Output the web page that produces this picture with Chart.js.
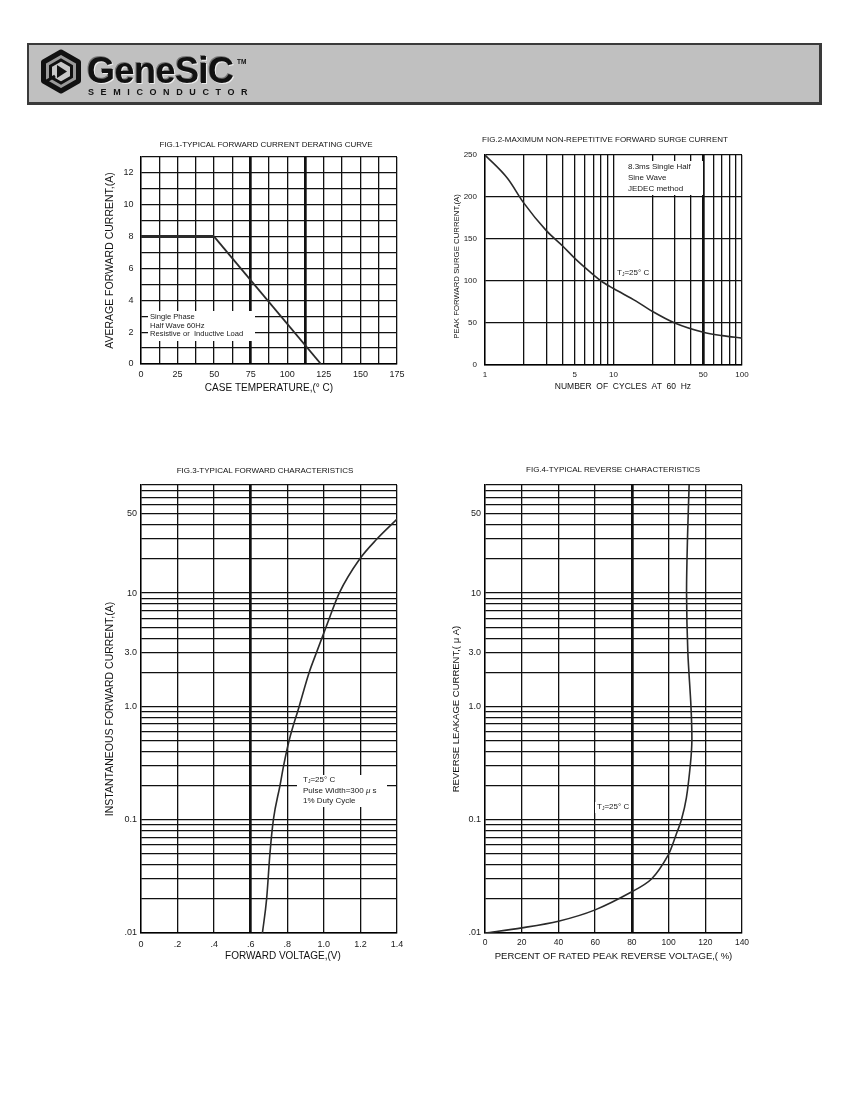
<!DOCTYPE html>
<html><head><meta charset="utf-8">
<script src="https://cdn.jsdelivr.net/npm/chart.js@4.4.1/dist/chart.umd.min.js"></script>
<style>
html,body{margin:0;padding:0;background:#fff;}
body{width:850px;height:1100px;position:relative;overflow:hidden;font-family:"Liberation Sans",Arial,sans-serif;color:#111;}
canvas{position:absolute;}
.gray{filter:grayscale(1);}
.hdr{position:absolute;left:27px;top:43px;width:795px;height:62px;box-sizing:border-box;background:#c0c0c0;border:2px solid #3a3a3a;border-right-width:3px;border-bottom-width:3px;}
.figt{position:absolute;font-size:8px;line-height:10px;white-space:nowrap;transform:translate(-50%,-50%);color:#111;filter:grayscale(1);}
.note{position:absolute;background:#fff;font-size:7.6px;white-space:nowrap;color:#1a1a1a;filter:grayscale(1);}
.note sub{font-size:5px;vertical-align:-1px;}
</style></head>
<body>
<div class="hdr"></div>
<svg style="position:absolute;left:39px;top:49px" width="44" height="45" viewBox="0 0 44 45">
  <polygon points="22,3 39.5,13 39.5,32 22,42 4.5,32 4.5,13" fill="#9a9a9a" stroke="#111" stroke-width="5" stroke-linejoin="round"/>
  <polygon points="22,11 32.5,17 32.5,28 22,34 11.5,28 11.5,17" fill="#c8c8c8" stroke="#111" stroke-width="3"/>
  <polygon points="18,16 28,22.5 18,29" fill="#111"/>
  <path d="M6,33 L16,27" stroke="#111" stroke-width="3"/>
</svg>
<div class="gray" style="position:absolute;left:87px;top:53px;font-size:36px;line-height:36px;font-weight:bold;letter-spacing:-0.5px;color:#111;text-shadow:1px 1px 0 #eee,-1px -1px 0 #777;">GeneSiC</div>
<div class="gray" style="position:absolute;left:237px;top:58px;font-size:6.5px;font-weight:bold;color:#111;">TM</div>
<div class="gray" style="position:absolute;left:88px;top:87px;font-size:9px;line-height:10px;font-weight:bold;letter-spacing:6.6px;color:#111;">SEMICONDUCTOR</div>

<canvas id="c1" width="325" height="260" style="left:95px;top:140px"></canvas>
<canvas id="c2" width="320" height="260" style="left:440px;top:140px"></canvas>
<canvas id="c3" width="325" height="500" style="left:95px;top:470px"></canvas>
<canvas id="c4" width="320" height="500" style="left:440px;top:470px"></canvas>

<div class="figt" style="left:266px;top:145px">FIG.1-TYPICAL FORWARD CURRENT DERATING CURVE</div>
<div class="figt" style="left:605px;top:140px">FIG.2-MAXIMUM NON-REPETITIVE FORWARD SURGE CURRENT</div>
<div class="figt" style="left:265px;top:471px">FIG.3-TYPICAL FORWARD CHARACTERISTICS</div>
<div class="figt" style="left:613px;top:470px">FIG.4-TYPICAL REVERSE CHARACTERISTICS</div>

<div class="note" style="left:148px;top:311px;width:107px;height:30px;line-height:8.7px;padding:2px 0 0 2px;box-sizing:border-box;">Single Phase<br>Half Wave 60Hz<br>Resistive or&nbsp; Inductive Load</div>
<div class="note" style="left:625px;top:161px;width:78px;height:34px;line-height:11px;padding:0 0 0 3px;box-sizing:border-box;font-size:8px;">8.3ms Single Half<br>Sine Wave<br>JEDEC method</div>
<div class="note" style="left:615px;top:268px;padding:0 2px;line-height:10px;font-size:8px;">T<sub>J</sub>=25° C</div>
<div class="note" style="left:297px;top:775px;width:90px;height:32px;line-height:10px;padding:0 0 0 6px;box-sizing:border-box;font-size:8px;">T<sub>J</sub>=25° C<br>Pulse Width=300 <i>μ</i> s<br>1% Duty Cycle</div>
<div class="note" style="left:595px;top:802px;padding:0 2px;line-height:10px;font-size:8px;">T<sub>J</sub>=25° C</div>

<script>
Chart.defaults.font.family = '"Liberation Sans", Arial, sans-serif';
Chart.defaults.color = '#1a1a1a';

// ---------- FIG.1 data ----------
const fig1Temp = [0, 50, 123];
const fig1Current = [8, 8, 0];
const fig1XGrid = [0, 12.5, 25, 37.5, 50, 62.5, 75, 87.5, 100, 112.5, 125, 137.5, 150, 162.5, 175];
const fig1XLabels = [[0,'0'],[25,'25'],[50,'50'],[75,'75'],[100,'100'],[125,'125'],[150,'150'],[175,'175']];
const fig1XThick = [75, 112.5];
const fig1YGrid = [0,1,2,3,4,5,6,7,8,9,10,11,12,13];
const fig1YLabels = [[0,'0'],[2,'2'],[4,'4'],[6,'6'],[8,'8'],[10,'10'],[12,'12']];

// ---------- FIG.2 data ----------
const fig2Cycles = [1, 1.5, 2, 3, 4, 5, 6, 8, 10, 15, 20, 30, 50, 70, 100];
const fig2Surge  = [250, 222, 193, 160, 142, 127, 116, 100, 91, 76, 64, 50, 39, 35, 32];
const fig2XGrid = [1,2,3,4,5,6,7,8,9,10,20,30,40,50,60,70,80,90,100];
const fig2XLabels = [[1,'1'],[5,'5'],[10,'10'],[50,'50'],[100,'100']];
const fig2XThick = [50];
const fig2YGrid = [0,50,100,150,200,250];
const fig2YLabels = [[0,'0'],[50,'50'],[100,'100'],[150,'150'],[200,'200'],[250,'250']];

// ---------- FIG.3 data ----------
const fig3Volt = [0.664, 0.687, 0.705, 0.724, 0.76, 0.78, 0.81, 0.865, 0.92, 0.96, 1.03, 1.084, 1.196, 1.29, 1.40];
const fig3Amp  = [0.01, 0.02, 0.05, 0.1, 0.2, 0.3, 0.5, 1.0, 2.0, 3.0, 6, 10, 20, 30, 45];
const fig3XGrid = [0, 0.2, 0.4, 0.6, 0.8, 1.0, 1.2, 1.4];
const fig3XLabels = [[0,'0'],[0.2,'.2'],[0.4,'.4'],[0.6,'.6'],[0.8,'.8'],[1.0,'1.0'],[1.2,'1.2'],[1.4,'1.4']];
const fig3XThick = [0.6];

// ---------- FIG.4 data ----------
const fig4Pct = [0, 20, 40, 60, 80, 90.7, 99.7, 104, 107, 109.7, 111.9, 112.7, 112.2, 110.5, 109.8, 110.3, 111.2];
const fig4uA  = [0.01, 0.0111, 0.0127, 0.016, 0.0231, 0.030, 0.0485, 0.073, 0.1, 0.156, 0.31, 0.5, 1.0, 3.0, 10, 30, 90];
const fig4XGrid = [0, 20, 40, 60, 80, 100, 120, 140];
const fig4XLabels = [[0,'0'],[20,'20'],[40,'40'],[60,'60'],[80,'80'],[100,'100'],[120,'120'],[140,'140']];
const fig4XThick = [80];

// shared log grid for fig 3 & 4 (1..9 per decade, .01 to 90)
const logDecades = [0.01, 0.1, 1, 10];
const logMantissa = [1,2,3,4,5,6,7,8,9];
const logYGrid = [];
logDecades.forEach(d => logMantissa.forEach(m => logYGrid.push(+(d*m).toPrecision(3))));
const logYLabels = [[0.01,'.01'],[0.1,'0.1'],[1,'1.0'],[3,'3.0'],[10,'10'],[50,'50']];

const near = (a,b) => Math.abs(a-b) <= 1e-9*Math.max(1,Math.abs(b));
const labeler = map => v => { for (const [k,t] of map) if (near(v,k)) return t; return ''; };
const gridWidth = thick => c => (c.tick && thick.some(t => near(c.tick.value,t))) ? 2.7 : 1.3;
const pts = (xs, ys) => xs.map((x,i) => ({x, y: ys[i]}));

function axis(o) {
  return {
    type: o.type, min: o.min, max: o.max,
    afterBuildTicks: s => { s.ticks = o.grid.map(v => ({value: v})); },
    afterFit: s => { if (o.pos === 'x') s.height = o.size; else s.width = o.size; },
    grid: { color: '#111', lineWidth: gridWidth(o.thick || []), drawTicks: false },
    border: { display: true, color: '#000', width: 1.4 },
    ticks: { autoSkip: false, maxRotation: 0, padding: o.tickPad, font: { size: o.tickSize }, color: '#1a1a1a', callback: labeler(o.labels) },
    title: { display: true, text: o.title, color: '#111', font: { size: o.titleSize }, padding: o.pos === 'x' ? {top: 0, bottom: o.titlePad} : {top: o.titlePad, bottom: 0} }
  };
}

function build(id, data, o) {
  return new Chart(document.getElementById(id), {
    type: 'line',
    data: { datasets: [{ data, borderColor: '#2a2a2a', borderWidth: o.lw, pointRadius: 0, tension: o.tension, cubicInterpolationMode: o.mono ? 'monotone' : 'default', fill: false, segment: o.segment || {} }] },
    options: {
      responsive: false, animation: false,
      layout: { padding: o.pad },
      plugins: { legend: { display: false }, tooltip: { enabled: false }, title: { display: false } },
      scales: { x: axis(o.x), y: axis(o.y) }
    }
  });
}

build('c1', pts(fig1Temp, fig1Current), {
  lw: 1.8, tension: 0,
  segment: { borderWidth: c => c.p0DataIndex === 0 ? 3 : 1.8 },
  pad: { top: 17, right: 23, bottom: 0, left: 0 },
  x: { pos: 'x', type: 'linear', min: 0, max: 175, grid: fig1XGrid, labels: fig1XLabels, thick: fig1XThick, size: 36, tickPad: 5.5, tickSize: 9, title: 'CASE TEMPERATURE,(° C)', titleSize: 10, titlePad: 6 },
  y: { pos: 'y', type: 'linear', min: 0, max: 13, grid: fig1YGrid, labels: fig1YLabels, size: 46, tickPad: 7.5, tickSize: 9, title: 'AVERAGE FORWARD CURRENT,(A)', titleSize: 10.5, titlePad: 8.7 }
});

build('c2', pts(fig2Cycles, fig2Surge), {
  lw: 1.6, tension: 0.4, mono: true,
  pad: { top: 15, right: 18, bottom: 0, left: 0 },
  x: { pos: 'x', type: 'logarithmic', min: 1, max: 100, grid: fig2XGrid, labels: fig2XLabels, thick: fig2XThick, size: 35, tickPad: 5, tickSize: 8, title: '        NUMBER  OF  CYCLES  AT  60  Hz', titleSize: 8.5, titlePad: 8 },
  y: { pos: 'y', type: 'linear', min: 0, max: 250, grid: fig2YGrid, labels: fig2YLabels, size: 45, tickPad: 8, tickSize: 8, title: 'PEAK FORWARD SURGE CURRENT,(A)      ', titleSize: 7.8, titlePad: 12 }
});

build('c3', pts(fig3Volt, fig3Amp), {
  lw: 1.6, tension: 0.4, mono: true,
  pad: { top: 15, right: 23, bottom: 0, left: 0 },
  x: { pos: 'x', type: 'linear', min: 0, max: 1.4, grid: fig3XGrid, labels: fig3XLabels, thick: fig3XThick, size: 37, tickPad: 6, tickSize: 9, title: '          FORWARD VOLTAGE,(V)', titleSize: 10, titlePad: 7.3 },
  y: { pos: 'y', type: 'logarithmic', min: 0.01, max: 90, grid: logYGrid, labels: logYLabels, size: 46, tickPad: 4, tickSize: 9, title: 'INSTANTANEOUS FORWARD CURRENT,(A)', titleSize: 10.5, titlePad: 8.7 }
});

build('c4', pts(fig4Pct, fig4uA), {
  lw: 1.6, tension: 0.3,
  pad: { top: 15, right: 18, bottom: 0, left: 0 },
  x: { pos: 'x', type: 'linear', min: 0, max: 140, grid: fig4XGrid, labels: fig4XLabels, thick: fig4XThick, size: 37, tickPad: 5, tickSize: 8.5, title: 'PERCENT OF RATED PEAK REVERSE VOLTAGE,( %)', titleSize: 9.5, titlePad: 7.6 },
  y: { pos: 'y', type: 'logarithmic', min: 0.01, max: 90, grid: logYGrid, labels: logYLabels, size: 45, tickPad: 4, tickSize: 9, title: 'REVERSE LEAKAGE CURRENT,( μ A)', titleSize: 9.5, titlePad: 11 }
});
</script>
</body></html>
